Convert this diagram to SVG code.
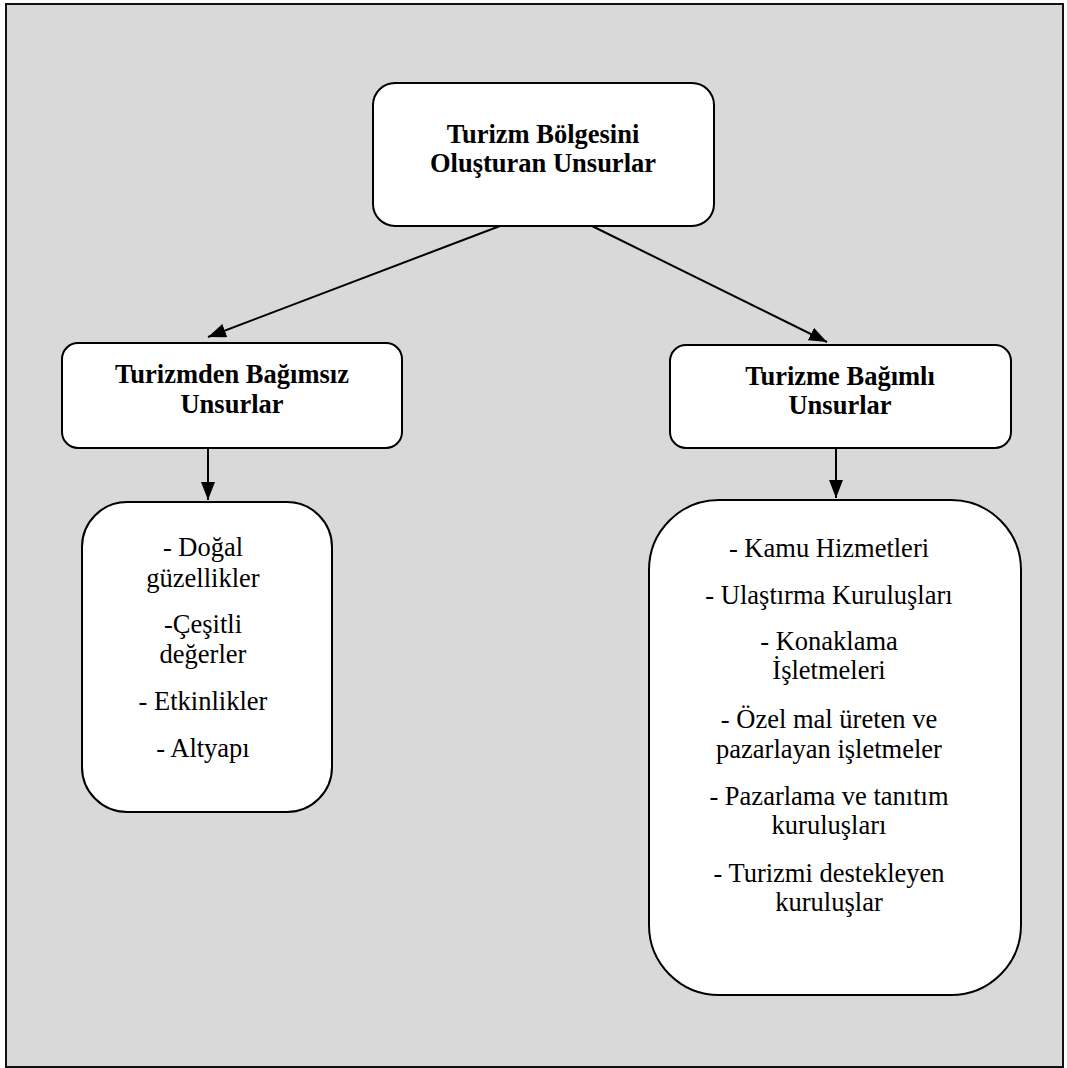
<svg xmlns="http://www.w3.org/2000/svg" width="1067" height="1068" viewBox="0 0 1067 1068">
  <style>
    .box { fill: #ffffff; stroke: #000000; stroke-width: 2; }
    .head { font-family: "Liberation Serif", "Times New Roman", serif; font-size: 26.5px; font-weight: bold; fill: #000000; text-anchor: middle; }
    .item { font-family: "Liberation Serif", "Times New Roman", serif; font-size: 26.5px; fill: #000000; text-anchor: middle; }
    .link { stroke: #000000; stroke-width: 2; fill: none; marker-end: url(#arrow); }
  </style>
  <defs>
    <marker id="arrow" markerWidth="9" markerHeight="7" refX="9" refY="3.5" orient="auto" markerUnits="strokeWidth">
      <path d="M0,0 L9,3.5 L0,7 Z" fill="#000000"/>
    </marker>
  </defs>

  <!-- page frame -->
  <rect x="0" y="0" width="1067" height="1068" fill="#ffffff"/>
  <rect x="6" y="4" width="1057" height="1063" fill="#d9d9d9" stroke="#111111" stroke-width="2"/>

  <!-- connectors -->
  <g id="connectors">
    <line class="link" x1="500" y1="226" x2="208" y2="337"/>
    <line class="link" x1="592" y1="226" x2="827" y2="342"/>
    <line class="link" x1="208" y1="448" x2="208" y2="500"/>
    <line class="link" x1="836" y1="448" x2="836" y2="498"/>
  </g>

  <!-- root -->
  <g id="root">
    <rect class="box" x="373" y="83" width="341" height="143" rx="22" ry="22"/>
    <text class="head" x="543" y="143">Turizm Bölgesini</text>
    <text class="head" x="543" y="172">Oluşturan Unsurlar</text>
  </g>

  <!-- independent elements -->
  <g id="independent">
    <rect class="box" x="62" y="343" width="340" height="105" rx="16" ry="16"/>
    <text class="head" x="232" y="383">Turizmden Bağımsız</text>
    <text class="head" x="232" y="413">Unsurlar</text>
  </g>

  <!-- dependent elements -->
  <g id="dependent">
    <rect class="box" x="670" y="345" width="341" height="103" rx="16" ry="16"/>
    <text class="head" x="840" y="385">Turizme Bağımlı</text>
    <text class="head" x="840" y="414">Unsurlar</text>
  </g>

  <!-- list of independent elements -->
  <g id="independent-list">
    <rect class="box" x="82" y="502" width="250" height="310" rx="45" ry="45"/>
    <text class="item" x="203" y="556">- Doğal</text>
    <text class="item" x="203" y="587">güzellikler</text>
    <text class="item" x="203" y="633">-Çeşitli</text>
    <text class="item" x="203" y="663">değerler</text>
    <text class="item" x="203" y="710">- Etkinlikler</text>
    <text class="item" x="203" y="757">- Altyapı</text>
  </g>

  <!-- list of dependent elements -->
  <g id="dependent-list">
    <rect class="box" x="649" y="500" width="372" height="495" rx="70" ry="70"/>
    <text class="item" x="829" y="557">- Kamu Hizmetleri</text>
    <text class="item" x="829" y="604">- Ulaştırma Kuruluşları</text>
    <text class="item" x="829" y="650">- Konaklama</text>
    <text class="item" x="829" y="679">İşletmeleri</text>
    <text class="item" x="829" y="728">- Özel mal üreten ve</text>
    <text class="item" x="829" y="758">pazarlayan işletmeler</text>
    <text class="item" x="829" y="805">- Pazarlama ve tanıtım</text>
    <text class="item" x="829" y="834">kuruluşları</text>
    <text class="item" x="829" y="882">- Turizmi destekleyen</text>
    <text class="item" x="829" y="911">kuruluşlar</text>
  </g>
</svg>
